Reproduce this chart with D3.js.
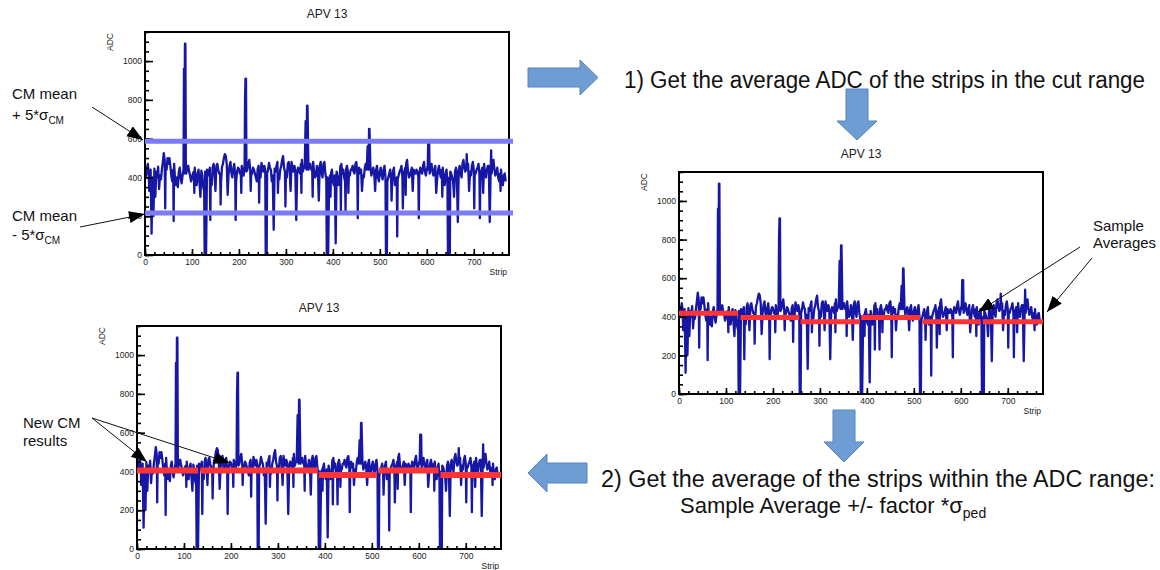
<!DOCTYPE html>
<html><head><meta charset="utf-8">
<script src="https://cdn.jsdelivr.net/npm/d3@7"></script>
<style>body{margin:0;background:#fff}svg{display:block}</style>
</head><body>
<svg id="c" width="1160" height="570"></svg>
<script>
// ---------------- DATA ----------------
const panelTitle = "APV 13";
const xLabel = "Strip";
const yLabel = "ADC";
const xTickValues = [0, 100, 200, 300, 400, 500, 600, 700];
const yTickValues = [0, 200, 400, 600, 800, 1000];
const stripStep = 4; // baseADC[i] is the reading at strip i*4, midADC[i] at strip i*4+2
const baseADC = [
 430,445,420,440,400,445,430,455,410,440,525,470,500,500,410,440,390,400,430,395,
 410,420,420,460,410,395,430,380,420,370,435,350,430,440,430,380,450,420,460,440,
 420,455,500,510,440,460,420,445,410,430,445,425,440,450,430,470,440,420,440,400,
 445,430,475,430,440,420,475,440,410,445,460,400,440,490,450,420,470,440,480,430,
 440,420,440,470,430,450,440,440,470,440,430,410,440,460,420,470,420,400,390,420,
 380,410,430,360,460,420,400,440,430,410,440,430,470,420,450,440,410,450,440,440,
 450,430,420,440,400,430,410,440,400,380,420,390,430,360,400,410,440,400,430,470,
 430,410,450,440,420,430,410,440,460,430,440,440,450,430,440,410,440,420,440,380,
 420,360,400,420,380,430,410,440,420,470,450,440,470,430,460,440,420,450,420,430,
 450,420,440,460,440,470,440,430,400,420,380,410,380
];
const midADC = [
 400,470,390,455,380,460,400,470,390,480,490,440,470,460,380,470,360,420,450,370,
 440,400,450,430,380,420,450,360,440,340,410,330,460,410,450,360,470,400,470,420,
 380,470,520,470,420,480,400,470,380,450,420,460,410,470,440,490,410,450,420,380,
 460,400,450,460,410,440,450,380,470,430,480,390,460,510,430,400,480,420,450,460,
 410,450,420,490,450,470,420,460,440,480,400,460,420,480,400,480,390,380,410,440,
 360,440,400,380,470,440,380,460,410,440,460,420,480,440,420,460,400,470,420,460,
 410,450,400,460,380,450,390,460,380,400,440,370,450,380,390,430,460,380,450,490,
 400,430,470,420,440,400,450,420,480,410,460,420,470,410,460,390,460,400,450,360,
 440,380,430,400,360,450,390,460,400,490,430,460,490,410,480,420,440,470,400,450,
 470,400,460,480,420,490,410,450,380,440,360,420
];
// individual strips: spikes and dips [strip, ADC]
const stripPeaks = [
 [9,330],[14,110],[18,200],[22,300],[30,340],[43,240],[61,175],[70,350],
 [83,960],[85,1090],[86,1090],[87,430],[105,320],[118,300],[127,0],[130,0],
 [139,180],[150,330],[161,260],[176,310],[193,180],[205,320],[213,810],[214,910],
 [215,910],[225,330],[243,270],[257,0],[259,0],[274,130],[283,320],[299,250],
 [310,330],[322,180],[333,320],[342,690],[345,770],[346,770],[357,300],[370,280],
 [387,0],[390,0],[395,300],[406,60],[417,230],[427,230],[433,320],[453,190],
 [462,330],[474,560],[477,650],[478,650],[490,330],[513,0],[515,0],[525,280],
 [537,95],[549,240],[555,310],[570,330],[583,190],[603,590],[605,590],[620,320],
 [633,300],[645,0],[649,0],[658,300],[666,170],[685,520],[690,330],[701,240],
 [713,190],[720,320],[734,170],[737,540],[757,330]
];
const cmCutLevels = [587, 217];           // CM mean +/- 5 sigma_CM
const sampleAverages = [                  // [from strip, to strip, ADC]
 [0,126,418],[131,256,396],[259,385,374],[388,513,396],[518,642,374],[647,776,374]
];
const newCMResults = [
 [0,130,405],[135,385,405],[387,510,381],[515,642,405],[646,776,381]
];

// ---------------- BUILD SERIES ----------------
const merged = new Map();
baseADC.forEach((v, i) => merged.set(i * stripStep, v));
midADC.forEach((v, i) => merged.set(i * stripStep + 2, v));
stripPeaks.forEach(([s, v]) => merged.set(s, v));
const series = Array.from(merged, ([s, v]) => ({s, v})).sort((a, b) => a.s - b.s);

const svg = d3.select("#c");
const FONT = "'Liberation Sans', Arial, Helvetica, sans-serif";
const defs = svg.append("defs");
defs.append("marker").attr("id", "ah").attr("markerUnits", "userSpaceOnUse")
  .attr("markerWidth", 18).attr("markerHeight", 14).attr("refX", 16).attr("refY", 6)
  .attr("orient", "auto").append("path").attr("d", "M0,0 L16,6 L0,12 Z").attr("fill", "#000");

function panel(id, x0, y0, w, h, extras) {
  const x = d3.scaleLinear().domain([0, 775]).range([x0, x0 + w]);
  const y = d3.scaleLinear().domain([0, 1150]).range([y0 + h, y0]);
  const g = svg.append("g");
  defs.append("clipPath").attr("id", "clip" + id).append("rect")
    .attr("x", x0).attr("y", y0).attr("width", w).attr("height", h);

  g.append("path").datum(series).attr("clip-path", `url(#clip${id})`)
    .attr("d", d3.line().x(d => x(d.s)).y(d => y(d.v)))
    .attr("fill", "none").attr("stroke", "#1717a6").attr("stroke-width", 2.3)
    .attr("stroke-linejoin", "round");

  // axes (ticks inside the frame, ROOT style)
  const yMinor = g.append("g").attr("transform", `translate(${x0},0)`)
    .call(d3.axisLeft(y).tickValues(d3.range(0, 1151, 50)).tickSizeInner(-4).tickSizeOuter(0).tickFormat(""));
  const yMajor = g.append("g").attr("transform", `translate(${x0},0)`)
    .call(d3.axisLeft(y).tickValues(yTickValues).tickSizeInner(-8).tickSizeOuter(0).tickPadding(3).tickFormat(d3.format("d")));
  const xMinor = g.append("g").attr("transform", `translate(0,${y0 + h})`)
    .call(d3.axisBottom(x).tickValues(d3.range(0, 776, 20)).tickSizeInner(-3).tickSizeOuter(0).tickFormat(""));
  const xMajor = g.append("g").attr("transform", `translate(0,${y0 + h})`)
    .call(d3.axisBottom(x).tickValues(xTickValues).tickSizeInner(-6).tickSizeOuter(0).tickPadding(4).tickFormat(d3.format("d")));
  [yMinor, yMajor, xMinor, xMajor].forEach(a => {
    a.select(".domain").remove();
    a.selectAll("line").attr("stroke", "#000").attr("stroke-width", 1.6);
    a.selectAll("text").attr("font-family", FONT).attr("font-size", 8.5).attr("fill", "#222");
  });
  g.append("rect").attr("x", x0).attr("y", y0).attr("width", w).attr("height", h)
    .attr("fill", "none").attr("stroke", "#000").attr("stroke-width", 2);

  g.append("text").attr("x", x0 + w / 2).attr("y", y0 - 14).attr("text-anchor", "middle")
    .attr("font-family", FONT).attr("font-size", 12).attr("fill", "#222").text(panelTitle);
  g.append("text").attr("transform", `translate(${x0 - 32},${y0 + 1}) rotate(-90)`)
    .attr("text-anchor", "end").attr("font-family", FONT).attr("font-size", 8.5).attr("fill", "#222").text(yLabel);
  g.append("text").attr("x", x0 + w - 2).attr("y", y0 + h + 20).attr("text-anchor", "end")
    .attr("font-family", FONT).attr("font-size", 8.5).attr("fill", "#222").text(xLabel);
  extras(g, x, y, x0, w);
}

// Panel 1: CM cut levels
panel(1, 145, 32, 364, 223, (g, x, y, x0, w) => {
  g.selectAll(".cm").data(cmCutLevels).join("line")
    .attr("x1", x0).attr("x2", x0 + w + 4).attr("y1", d => y(d)).attr("y2", d => y(d))
    .attr("stroke", "#7b7bf4").attr("stroke-width", 5);
});
// Panel 2: sample averages
panel(2, 679, 172, 364, 222, (g, x, y) => {
  g.selectAll(".sa").data(sampleAverages).join("line")
    .attr("x1", d => x(d[0])).attr("x2", d => x(Math.min(d[1], 775))).attr("y1", d => y(d[2])).attr("y2", d => y(d[2]))
    .attr("stroke", "#ff3535").attr("stroke-width", 5);
});
// Panel 3: new CM results
panel(3, 137, 326, 364, 223, (g, x, y) => {
  g.selectAll(".nc").data(newCMResults).join("line")
    .attr("x1", d => x(d[0])).attr("x2", d => x(Math.min(d[1], 775))).attr("y1", d => y(d[2])).attr("y2", d => y(d[2]))
    .attr("stroke", "#ff3535").attr("stroke-width", 6);
});

// ---------------- ANNOTATIONS ----------------
function arrow(x1, y1, x2, y2) {
  svg.append("line").attr("x1", x1).attr("y1", y1).attr("x2", x2).attr("y2", y2)
    .attr("stroke", "#111").attr("stroke-width", 1).attr("marker-end", "url(#ah)");
}
function label(x, y, size, parts) {
  const t = svg.append("text").attr("x", x).attr("y", y).attr("font-family", FONT)
    .attr("font-size", size).attr("fill", "#111");
  parts.forEach(p => {
    if (typeof p === "string") t.append("tspan").text(p);
    else t.append("tspan").attr("font-size", p.size).attr("dy", p.dy).text(p.t);
  });
  return t;
}
label(12, 99, 15, ["CM mean"]);
label(12, 120, 15, ["+ 5*σ", {t: "CM", size: 10, dy: 4}]);
label(12, 221, 15, ["CM mean"]);
label(12, 240, 15, ["- 5*σ", {t: "CM", size: 10, dy: 4}]);
arrow(92, 107, 143, 140);
arrow(80, 227, 145, 214);

label(1093, 231, 15, ["Sample"]);
label(1093, 248, 15, ["Averages"]);
arrow(1080, 247, 978, 312);
arrow(1092, 258, 1047, 312);

label(23, 428, 15, ["New CM"]);
label(23, 446, 15, ["results"]);
arrow(92, 418, 147, 462);
arrow(92, 418, 230, 463);

// big step texts
svg.append("text").attr("x", 624).attr("y", 88).attr("font-family", FONT).attr("font-size", 23)
  .attr("textLength", 521).attr("lengthAdjust", "spacingAndGlyphs").attr("fill", "#111")
  .text("1) Get the average ADC of the strips in the cut range");
svg.append("text").attr("x", 601).attr("y", 487).attr("font-family", FONT).attr("font-size", 23)
  .attr("textLength", 554).attr("lengthAdjust", "spacingAndGlyphs").attr("fill", "#111")
  .text("2) Get the average of the strips within the ADC range:");
const l2 = svg.append("g").attr("transform", "translate(680,513)");
const t2 = l2.append("text").attr("font-family", FONT).attr("font-size", 22).attr("fill", "#111");
t2.append("tspan").text("Sample Average +/- factor *σ");
t2.append("tspan").attr("font-size", 14).attr("dy", 5).text("ped");

// block arrows
const BA = {fill: "#6d9dd3", stroke: "#5683bd"};
function blockArrow(pts) {
  svg.append("path").attr("d", "M" + pts.map(p => p.join(",")).join("L") + "Z")
    .attr("fill", BA.fill).attr("stroke", BA.stroke).attr("stroke-width", 1);
}
blockArrow([[528,68],[580,68],[580,60],[598,77.5],[580,95],[580,87],[528,87]]);     // right
blockArrow([[846,89],[868,89],[868,121],[877,121],[857,140],[837,121],[846,121]]);  // down 1
blockArrow([[833,410],[855,410],[855,442],[864,442],[844,462],[824,442],[833,442]]); // down 2
blockArrow([[587,463],[547,463],[547,454],[528,473],[547,492],[547,483],[587,483]]); // left
</script>
</body></html>
